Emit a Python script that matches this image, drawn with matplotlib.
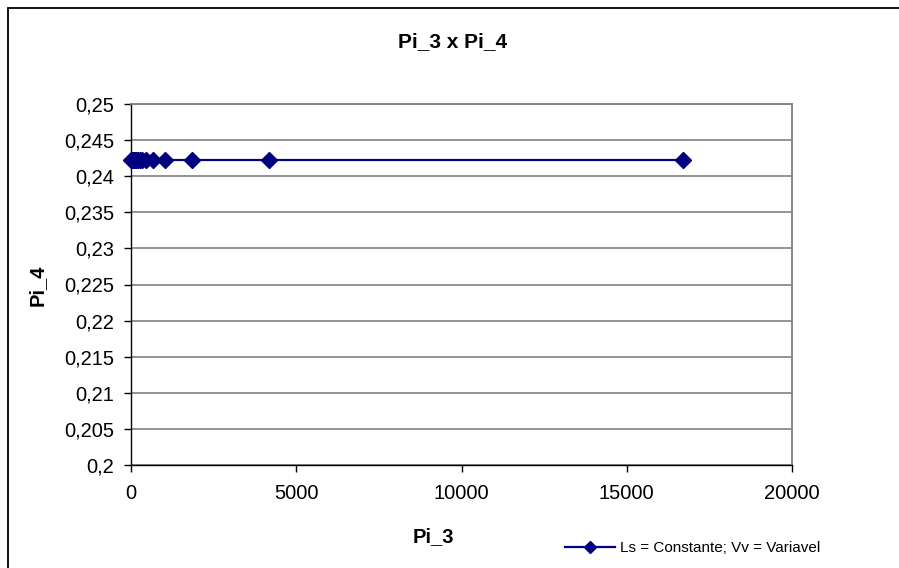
import matplotlib
matplotlib.use("Agg")
import matplotlib.pyplot as plt
from matplotlib.ticker import FuncFormatter, MultipleLocator
from matplotlib.patches import Rectangle
from matplotlib.lines import Line2D

plt.rcParams['font.family'] = ['Liberation Sans', 'DejaVu Sans']

# Pi_3 values (Vv varying, Ls constant) and the corresponding Pi_4
pi_3 = [16700, 4170, 1850, 1040, 670, 460, 340, 260, 205, 165, 138, 116, 99, 85, 74, 65, 40, 20, 10]
pi_4 = [0.2422] * len(pi_3)

series_label = "Ls = Constante; Vv = Variavel"
title = "Pi_3 x Pi_4"
x_label = "Pi_3"
y_label = "Pi_4"

navy = "#000080"

fig = plt.figure(figsize=(8.99, 5.68), dpi=100)
fig.patch.set_facecolor("white")

# outer chart frame
fig.patches.append(Rectangle((8 / 899, -0.05), 1.2, 1 - 8 / 568 + 0.05,
                             transform=fig.transFigure, fill=False,
                             edgecolor="black", linewidth=1.3))

ax = fig.add_axes([131 / 899, 1 - 465 / 568, 661 / 899, 361 / 568])
ax.plot(pi_3, pi_4, color=navy, linewidth=1.6, marker="D", markersize=8.5,
        markerfacecolor=navy, markeredgecolor=navy, zorder=3, clip_on=False)

ax.set_xlim(0, 20000)
ax.set_ylim(0.2, 0.25)
ax.yaxis.set_major_locator(MultipleLocator(0.005))
ax.xaxis.set_major_locator(MultipleLocator(5000))

def comma_fmt(v, pos):
    s = f"{v:.3f}".rstrip("0").rstrip(".")
    return s.replace(".", ",")

ax.yaxis.set_major_formatter(FuncFormatter(comma_fmt))
ax.xaxis.set_major_formatter(FuncFormatter(lambda v, p: f"{int(v)}"))

ax.grid(axis="y", color="#808080", linewidth=1.2)
ax.set_axisbelow(True)
for side in ("top", "right"):
    ax.spines[side].set_color("#808080")
    ax.spines[side].set_linewidth(1.3)
for side in ("left", "bottom"):
    ax.spines[side].set_color("black")
    ax.spines[side].set_linewidth(1.0)

ax.tick_params(axis="both", direction="out", length=5, width=1,
               labelsize=14.5, pad=7)
ax.tick_params(axis="x", pad=9)

fig.text(453 / 899, 1 - 42 / 568, title, ha="center", va="center",
         fontsize=15, fontweight="bold")
fig.text(433 / 899, 1 - 537 / 568, x_label, ha="center", va="center",
         fontsize=14.5, fontweight="bold")
fig.text(37 / 899, 1 - 285 / 568, y_label, ha="center", va="center",
         fontsize=14.5, fontweight="bold", rotation=90)

handle = Line2D([], [], color=navy, linewidth=1.6, marker="D", markersize=6,
                markerfacecolor=navy, markeredgecolor=navy)
fig.legend([handle], [series_label], loc="center left",
           bbox_to_anchor=(565 / 899, 1 - 548 / 568), frameon=False,
           fontsize=11, handlelength=3.3, handletextpad=0.3,
           borderaxespad=0, borderpad=0)

fig.savefig("out.png", dpi=100, facecolor="white")
